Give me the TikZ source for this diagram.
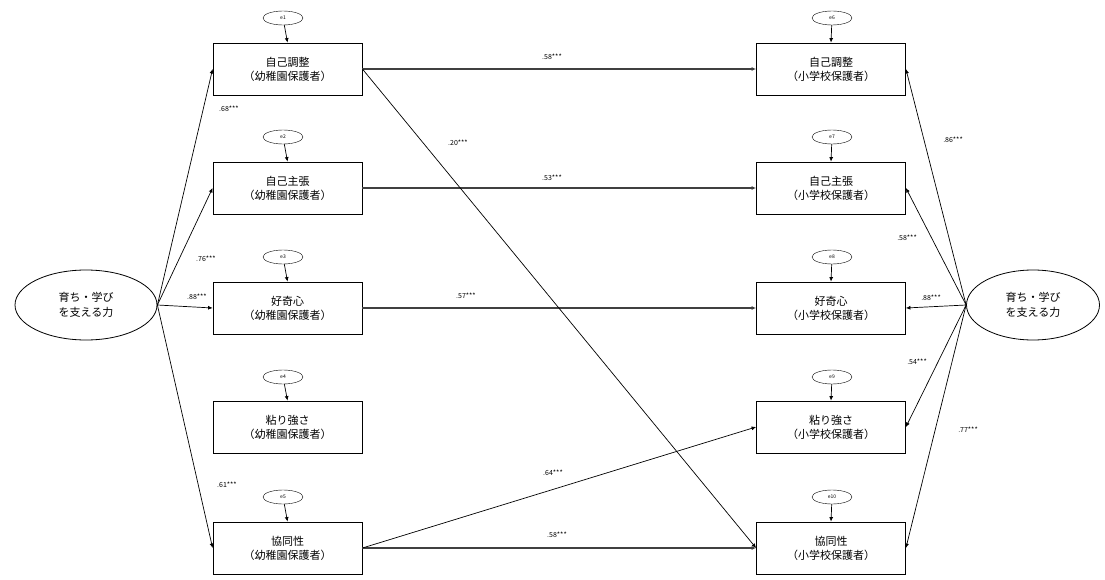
\documentclass[tikz,border=0pt]{standalone}
\usepackage{fontspec}
\setmainfont{Noto Sans CJK JP}
\usetikzlibrary{arrows.meta,shapes.geometric}
\begin{document}
\begin{tikzpicture}[x=1pt,y=-1pt,
 obs/.style={draw, line width=0.8pt, minimum width=149pt, minimum height=52pt, align=center, font=\fontsize{11}{14}\selectfont, inner sep=0pt},
 err/.style={draw, ellipse, minimum width=40pt, minimum height=14pt, inner sep=0pt, font=\fontsize{5}{6}\selectfont},
 lat/.style={draw, ellipse, line width=0.8pt, minimum width=142pt, minimum height=70pt, align=center, font=\fontsize{11}{15}\selectfont, inner sep=0pt},
 arr/.style={-{Latex[length=4.5pt,width=4pt]}, line width=0.7pt},
 harr/.style={-{Latex[length=4.5pt,width=4pt]}, line width=1.3pt, draw=black!75},
 coef/.style={font=\fontsize{7}{8}\selectfont, inner sep=1pt}]
\useasboundingbox (0,0) rectangle (1105,580);

% left observed
\node[obs] (l1) at (287.5,69) {自己調整\\（幼稚園保護者）};
\node[obs] (l2) at (287.5,188) {自己主張\\（幼稚園保護者）};
\node[obs] (l3) at (287.5,308) {好奇心\\（幼稚園保護者）};
\node[obs] (l4) at (287.5,427) {粘り強さ\\（幼稚園保護者）};
\node[obs] (l5) at (287.5,548) {協同性\\（幼稚園保護者）};
% right observed
\node[obs] (r1) at (831,69) {自己調整\\（小学校保護者）};
\node[obs] (r2) at (831,188) {自己主張\\（小学校保護者）};
\node[obs] (r3) at (831,308) {好奇心\\（小学校保護者）};
\node[obs] (r4) at (831,427) {粘り強さ\\（小学校保護者）};
\node[obs] (r5) at (831,548) {協同性\\（小学校保護者）};

% error terms
\node[err] (e1) at (283,18) {e1};
\node[err] (e2) at (283,137) {e2};
\node[err] (e3) at (283,257) {e3};
\node[err] (e4) at (283,377) {e4};
\node[err] (e5) at (283,497) {e5};
\node[err] (e6) at (832,18) {e6};
\node[err] (e7) at (832,137) {e7};
\node[err] (e8) at (832,257) {e8};
\node[err] (e9) at (832,377) {e9};
\node[err] (e10) at (832,497) {e10};
\foreach \i/\b in {1/l1,2/l2,3/l3,4/l4,5/l5,6/r1,7/r2,8/r3,9/r4,10/r5}
  \draw[arr] (e\i) -- (\b.north);

% latent
\node[lat] (LL) at (86,305) {育ち・学び\\を支える力};
\node[lat, minimum width=133pt] (RL) at (1033,305) {育ち・学び\\を支える力};

\foreach \b in {l1,l2,l3,l5}
  \draw[arr] (LL.east) -- (\b.west);
\foreach \b in {r1,r2,r3,r4,r5}
  \draw[arr] (RL.west) -- (\b.east);

% cross paths
\draw[harr] (l1.east) -- (r1.west);
\draw[harr] (l2.east) -- (r2.west);
\draw[harr] (l3.east) -- (r3.west);
\draw[harr] (l5.east) -- (r5.west);
\draw[arr] (l1.east) -- (r5.west);
\draw[arr] (l5.east) -- (r4.west);

% coefficients
\node[coef] (c1) at (552,57) {.58***};
\node[coef] (c2) at (552,178) {.53***};
\node[coef] (c3) at (466,296) {.57***};
\node[coef] (c4) at (557,535) {.58***};
\node[coef] (c5) at (553,473) {.64***};
\node[coef] (c6) at (458,143) {.20***};
\node[coef] (c7) at (229,109) {.68***};
\node[coef] (c8) at (206,259) {.76***};
\node[coef] (c9) at (197,297) {.88***};
\node[coef] (c10) at (227,485) {.61***};
\node[coef] (c11) at (953,140) {.86***};
\node[coef] (c12) at (907,238) {.58***};
\node[coef] (c13) at (931,298) {.88***};
\node[coef] (c14) at (917,362) {.54***};
\node[coef] (c15) at (968,430) {.77***};
\end{tikzpicture}
\end{document}
